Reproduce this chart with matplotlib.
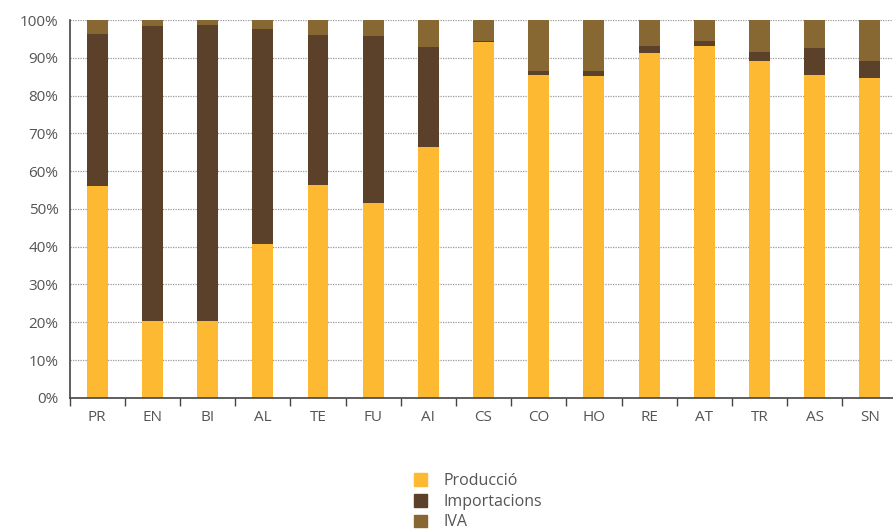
import matplotlib.pyplot as plt
from matplotlib.ticker import FixedLocator, FuncFormatter
from matplotlib.patches import Patch

plt.rcParams["font.family"] = ["Open Sans", "DejaVu Sans"]

categories = ["PR", "EN", "BI", "AL", "TE", "FU", "AI", "CS", "CO", "HO", "RE", "AT", "TR", "AS", "SN"]
produccio = [56.1, 20.4, 20.4, 40.7, 56.3, 51.6, 66.4, 94.2, 85.4, 85.2, 91.3, 93.1, 89.2, 85.4, 84.7]
importacions = [40.2, 78.0, 78.3, 56.9, 39.7, 44.2, 26.5, 0.3, 1.1, 1.3, 1.8, 1.3, 2.3, 7.2, 4.5]
iva = [100 - p - i for p, i in zip(produccio, importacions)]

series_names = ["Producció", "Importacions", "IVA"]
colors = ["#FDB931", "#5C412A", "#876832"]
text_color = "#555555"

fig = plt.figure(figsize=(8.93, 5.29), dpi=100)
ax = fig.add_axes([0.078, 0.248, 0.927, 0.714])

x = range(len(categories))
width = 0.38
ax.bar(x, produccio, width, color=colors[0], zorder=2)
ax.bar(x, importacions, width, bottom=produccio, color=colors[1], zorder=2)
bottoms = [p + i for p, i in zip(produccio, importacions)]
ax.bar(x, iva, width, bottom=bottoms, color=colors[2], zorder=2)

ax.set_xlim(-0.5, len(categories) - 0.5)
ax.set_ylim(0, 100)

ax.set_yticks(range(0, 101, 10))
ax.yaxis.set_major_formatter(FuncFormatter(lambda v, _: f"{int(v)}%"))
ax.tick_params(axis="y", length=0, labelsize=11, labelcolor=text_color, pad=8)

ax.set_xticks(list(x))
ax.set_xticklabels(categories)
ax.tick_params(axis="x", which="major", length=0, labelsize=11, labelcolor=text_color, pad=9)
ax.xaxis.set_minor_locator(FixedLocator([i - 0.5 for i in range(len(categories) + 1)]))
ax.tick_params(axis="x", which="minor", length=6, width=1, color="#444444", direction="out")

ax.grid(axis="y", linestyle=(0, (1, 1)), color="#999999", linewidth=0.9, zorder=0)
ax.set_axisbelow(True)

for side in ["top", "right"]:
    ax.spines[side].set_visible(False)
for side in ["left", "bottom"]:
    ax.spines[side].set_color("#444444")
    ax.spines[side].set_linewidth(1.2)

handles = [Patch(color=c, label=n) for c, n in zip(colors, series_names)]
fig.legend(handles=handles, loc="lower left", bbox_to_anchor=(0.447, -0.03), frameon=False,
           fontsize=11.5, labelcolor=text_color, handlelength=0.85, handleheight=0.85,
           handletextpad=1.0, labelspacing=0.3)

fig.savefig("out.png", dpi=100)
